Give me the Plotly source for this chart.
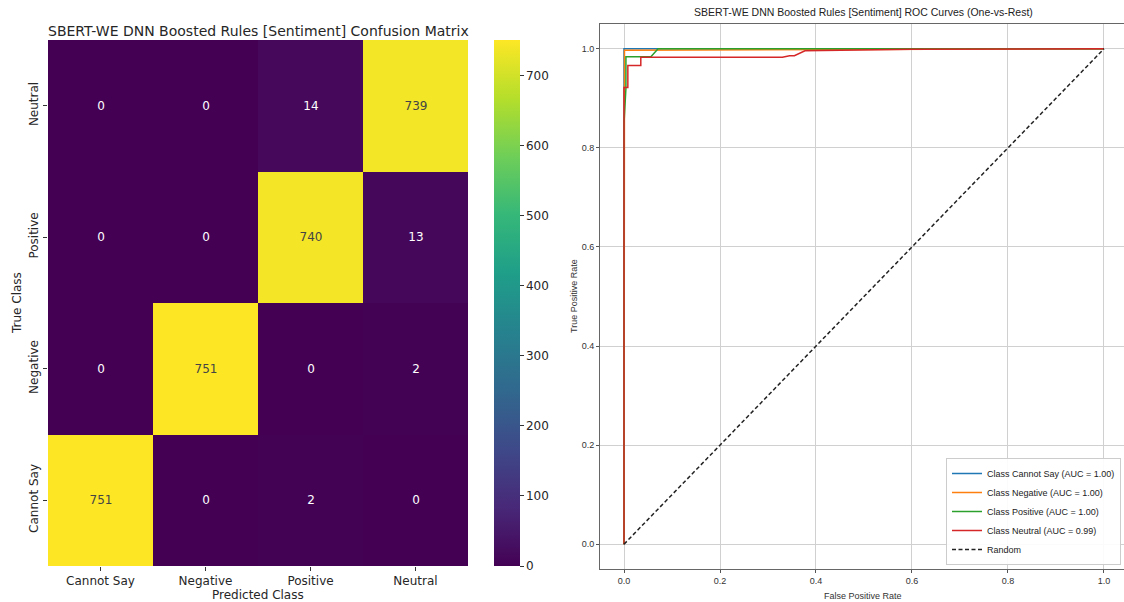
import plotly.graph_objects as go

classes = ["Cannot Say", "Negative", "Positive", "Neutral"]
# rows = true class, cols = predicted class
confusion = [
    [751, 0, 2, 0],
    [0, 751, 0, 2],
    [0, 0, 740, 13],
    [0, 0, 14, 739],
]

roc_names = ["Class Cannot Say (AUC = 1.00)", "Class Negative (AUC = 1.00)",
             "Class Positive (AUC = 1.00)", "Class Neutral (AUC = 0.99)"]
roc_colors = ["#1f77b4", "#ff7f0e", "#2ca02c", "#d62728"]
fpr_cannot = [0.0, 0.0, 1.0]
tpr_cannot = [0.0, 1.0, 1.0]
fpr_negative = [0.0, 0.0, 0.001, 0.001, 1.0]
tpr_negative = [0.0, 0.92, 0.92, 0.997, 1.0]
fpr_positive = [0.0, 0.0, 0.004, 0.004, 0.056, 0.071, 1.0]
tpr_positive = [0.0, 0.85, 0.92, 0.984, 0.984, 1.0, 1.0]
fpr_neutral = [0.0, 0.0, 0.008, 0.008, 0.035, 0.035, 0.33, 0.345, 0.355, 0.377, 0.6, 1.0]
tpr_neutral = [0.0, 0.922, 0.922, 0.966, 0.966, 0.983, 0.983, 0.986, 0.986, 0.996, 0.999, 1.0]
roc_fpr = [fpr_cannot, fpr_negative, fpr_positive, fpr_neutral]
roc_tpr = [tpr_cannot, tpr_negative, tpr_positive, tpr_neutral]
random_x = [0.0, 1.0]
random_y = [0.0, 1.0]
roc_ticks = [0.0, 0.2, 0.4, 0.6, 0.8, 1.0]
cbar_ticks = [0, 100, 200, 300, 400, 500, 600, 700]

W, H = 1124, 602
def px_x(p):
    return p / W
def px_y(p):
    return 1 - p / H

fig = go.Figure()

fig.add_trace(go.Heatmap(
    z=confusion, x=classes, y=classes,
    colorscale="Viridis", zmin=0, zmax=751,
    texttemplate="%{z}", textfont=dict(size=12, family="DejaVu Sans"),
    xaxis="x", yaxis="y", showscale=True,
    colorbar=dict(
        x=px_x(494), xanchor="left", xpad=0, ypad=0,
        y=px_y(566), yanchor="bottom", len=(566 - 40) / H, lenmode="fraction",
        thickness=26, outlinewidth=0,
        tickvals=cbar_ticks, ticks="outside", ticklen=4, tickcolor="#333",
        tickfont=dict(size=12, family="DejaVu Sans", color="#262626"),
    ),
    hoverinfo="skip",
))

for i in range(4):
    fig.add_trace(go.Scatter(
        x=roc_fpr[i], y=roc_tpr[i], mode="lines", name=roc_names[i],
        line=dict(color=roc_colors[i], width=1.5),
        xaxis="x2", yaxis="y2",
    ))
fig.add_trace(go.Scatter(
    x=random_x, y=random_y, mode="lines", name="Random",
    line=dict(color="#222", width=1.5, dash="4px,2.5px"),
    xaxis="x2", yaxis="y2",
))

font_main = "DejaVu Sans"
font_roc = "Liberation Sans"

def ann(text, x, y, size, family, angle=0, color="#262626"):
    return dict(text=text, x=px_x(x), y=px_y(y), xref="paper", yref="paper",
                xanchor="center", yanchor="middle", showarrow=False, textangle=angle,
                font=dict(size=size, family=family, color=color))

fig.update_layout(
    width=W, height=H,
    margin=dict(l=0, r=0, t=0, b=0, autoexpand=False),
    paper_bgcolor="white", plot_bgcolor="white",
    showlegend=True,
    legend=dict(
        x=px_x(1121), xanchor="right", y=px_y(565), yanchor="bottom",
        bgcolor="rgba(255,255,255,0.9)", bordercolor="#cccccc", borderwidth=1,
        font=dict(size=9, family=font_roc, color="#222"),
        itemwidth=30, tracegroupgap=0,
    ),
    xaxis=dict(
        domain=[px_x(48), px_x(468)], anchor="y", automargin=False,
        tickfont=dict(size=12, family=font_main, color="#262626"),
        ticks="outside", ticklen=4, tickcolor="#333",
        showgrid=False, zeroline=False,
    ),
    yaxis=dict(
        domain=[1 - 566 / H, 1 - 40 / H], anchor="x", automargin=False,
        tickfont=dict(size=12, family=font_main, color="#262626"),
        tickangle=-90, ticks="outside", ticklen=4, tickcolor="#333",
        showgrid=False, zeroline=False,
    ),
    xaxis2=dict(
        domain=[px_x(600), px_x(1124)], anchor="y2", automargin=False,
        range=[-0.05, 1.0417], tickvals=roc_ticks, tickformat=".1f",
        tickfont=dict(size=9, family=font_roc, color="#333"),
        ticks="outside", ticklen=3, tickcolor="#555",
        showline=True, linecolor="#666", linewidth=1, mirror=True,
        showgrid=True, gridcolor="#d0d0d0", gridwidth=1, zeroline=False,
    ),
    yaxis2=dict(
        domain=[1 - 569 / H, 1 - 24 / H], anchor="x2", automargin=False,
        range=[-0.05, 1.05], tickvals=roc_ticks, tickformat=".1f",
        tickfont=dict(size=9, family=font_roc, color="#333"),
        ticks="outside", ticklen=3, tickcolor="#555",
        showline=True, linecolor="#666", linewidth=1, mirror=True,
        showgrid=True, gridcolor="#d0d0d0", gridwidth=1, zeroline=False,
    ),
    annotations=[
        ann("SBERT-WE DNN Boosted Rules [Sentiment] Confusion Matrix", 258, 31, 14, font_main),
        ann("Predicted Class", 258, 595, 12, font_main),
        ann("True Class", 17, 303, 12, font_main, angle=-90),
        ann("SBERT-WE DNN Boosted Rules [Sentiment] ROC Curves (One-vs-Rest)", 863, 12, 10.5, font_roc, color="#222"),
        ann("False Positive Rate", 863, 596, 9, font_roc, color="#333"),
        ann("True Positive Rate", 574, 296, 9, font_roc, angle=-90, color="#333"),
    ],
)

fig.write_html("out.html", config={"displayModeBar": False},
               post_script="document.body.style.margin='0px';")
